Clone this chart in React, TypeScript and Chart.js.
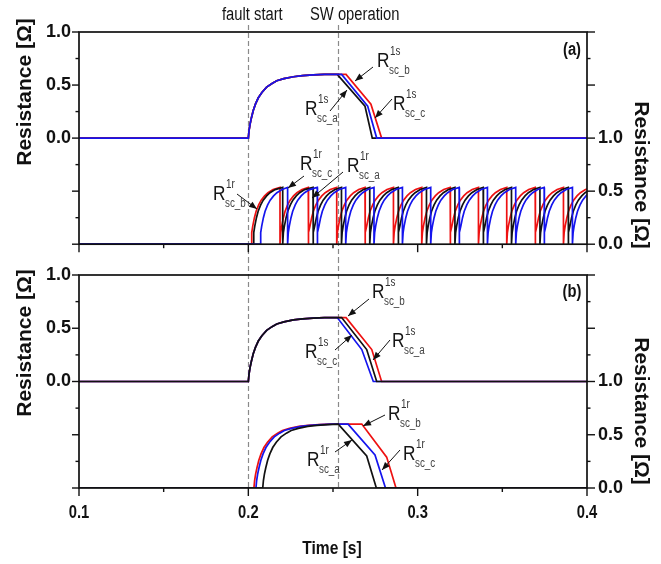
import React, { useEffect, useRef } from "react";
import { Chart, registerables } from "chart.js";
Chart.register(...registerables);

const W = 661;
const TOP_H = 258;
const BOT_H = 306;

const SANS = "'Liberation Sans', Arial, sans-serif";
const NARROW_SCALE = 0.82;

// ---------- axis values ----------
const T_MIN = 0.1;
const T_MAX = 0.4;
const T_STEP = 0.05;
const X_TICK_LABELS = [0.1, 0.2, 0.3, 0.4];
const Y_TICK_LABELS = [0.0, 0.5, 1.0];
const EVENT_TIMES = [0.2, 0.2531];
const EVENT_LABELS = ["fault start", "SW operation"];

// ---------- shared rise shape after the fault (offset from onset [s], resistance [Ω]) ----------
const RISE_DT = [0, 0.0004, 0.001, 0.0018, 0.0029, 0.0042, 0.0059, 0.008, 0.0108, 0.014, 0.0168, 0.021, 0.0266, 0.032, 0.0384, 0.045];
const RISE_V = [0, 0.07, 0.13, 0.19, 0.26, 0.32, 0.38, 0.43, 0.48, 0.515, 0.54, 0.56, 0.578, 0.588, 0.595, 0.6];

// ---------- panel (a), upper: R1s ----------
const A_UP_ONSET = 0.2;
const A_UP_FALL_BLACK = [[0.2525, 0.6], [0.2689, 0.3], [0.2732, 0]];
const A_UP_FALL_BLUE = [[0.2551, 0.6], [0.2705, 0.3], [0.2758, 0]];
const A_UP_FALL_RED = [[0.2577, 0.6], [0.2724, 0.32], [0.2787, 0]];

// ---------- panel (a), lower: R1r repeated recovery ----------
const RIPPLE_DT = [0, 0.0004, 0.001, 0.002, 0.003, 0.0045, 0.006, 0.008, 0.01, 0.013];
const RIPPLE_V = [0, 0.11, 0.17, 0.25, 0.31, 0.37, 0.415, 0.455, 0.485, 0.515];
const RIPPLE_PEAK = 0.535;
const RIPPLE_RED_ONSET = 0.2016;
const RIPPLE_RED_DROPS = [0.2187, 0.2354, 0.2522, 0.2689, 0.2857, 0.3024, 0.3192, 0.3359, 0.3526, 0.3694, 0.3861, 0.4029];
const RIPPLE_BLACK_ONSET = 0.2028;
const RIPPLE_BLACK_DROPS = [0.2203, 0.2382, 0.255, 0.2717, 0.2885, 0.3052, 0.322, 0.3387, 0.3554, 0.3722, 0.3889, 0.4057];
const RIPPLE_BLUE_ONSET = 0.2069;
const RIPPLE_BLUE_DROPS = [0.2232, 0.2407, 0.2575, 0.2742, 0.291, 0.3077, 0.3245, 0.3412, 0.3579, 0.3747, 0.3914, 0.4082];

// ---------- panel (b), upper: R1s ----------
const B_UP_ONSET = 0.2;
const B_UP_FALL_BLUE = [[0.2525, 0.6], [0.267, 0.3], [0.2738, 0]];
const B_UP_FALL_BLACK = [[0.2551, 0.6], [0.2699, 0.3], [0.2758, 0]];
const B_UP_FALL_RED = [[0.2577, 0.6], [0.2729, 0.3], [0.2787, 0]];

// ---------- panel (b), lower: R1r ----------
const B_LOW_ONSET_RED = 0.2033;
const B_LOW_ONSET_BLUE = 0.2045;
const B_LOW_ONSET_BLACK = 0.2085;
const B_LOW_FALL_BLACK = [[0.2531, 0.6], [0.2699, 0.3], [0.2756, 0]];
const B_LOW_FALL_BLUE = [[0.2589, 0.6], [0.2748, 0.31], [0.281, 0]];
const B_LOW_FALL_RED = [[0.267, 0.6], [0.2817, 0.29], [0.2872, 0]];

const RED = "#ee1111";
const BLUE = "#1414ee";
const BLACK = "#111111";

type Pt = { x: number; y: number };

function faultCurve(onset: number, fall: number[][]): Pt[] {
  const pts: Pt[] = [{ x: T_MIN, y: 0 }];
  for (let k = 0; k < RISE_DT.length; k++) {
    const t = onset + RISE_DT[k];
    if (t < fall[0][0]) pts.push({ x: t, y: RISE_V[k] });
  }
  fall.forEach(([t, v]) => pts.push({ x: t, y: v }));
  pts.push({ x: T_MAX, y: 0 });
  return pts;
}

function rippleCurve(onset: number, drops: number[]): Pt[] {
  const pts: Pt[] = [{ x: T_MIN, y: 0 }];
  let start = onset;
  drops.forEach((d) => {
    for (let k = 0; k < RIPPLE_DT.length; k++) {
      const t = start + RIPPLE_DT[k];
      if (t < d - 0.0002) pts.push({ x: t, y: RIPPLE_V[k] });
    }
    pts.push({ x: d, y: RIPPLE_PEAK });
    pts.push({ x: d, y: 0 });
    start = d;
  });
  return pts;
}

type Ann = { sup: string; sub: string; x: number; y: number; from: number[]; to: number[] };

const A_ANN: Ann[] = [
  { sup: "1s", sub: "sc_b", x: 377, y: 67, from: [373, 67], to: [355, 81] },
  { sup: "1s", sub: "sc_a", x: 305, y: 115, from: [330, 111], to: [347, 90] },
  { sup: "1s", sub: "sc_c", x: 393, y: 110, from: [392, 99], to: [375, 118] },
  { sup: "1r", sub: "sc_b", x: 213, y: 200, from: [237, 194], to: [257, 209] },
  { sup: "1r", sub: "sc_c", x: 300, y: 170, from: [304, 176], to: [288, 188] },
  { sup: "1r", sub: "sc_a", x: 347, y: 172, from: [343, 172], to: [312, 198] },
];
const B_ANN: Ann[] = [
  { sup: "1s", sub: "sc_b", x: 372, y: 298, from: [369, 299], to: [348, 316] },
  { sup: "1s", sub: "sc_a", x: 392, y: 347, from: [390, 340], to: [373, 360] },
  { sup: "1s", sub: "sc_c", x: 305, y: 358, from: [335, 350], to: [352, 335] },
  { sup: "1r", sub: "sc_b", x: 388, y: 420, from: [385, 415], to: [363, 426] },
  { sup: "1r", sub: "sc_c", x: 403, y: 460, from: [400, 450], to: [382, 470] },
  { sup: "1r", sub: "sc_a", x: 307, y: 466, from: [335, 452], to: [352, 440] },
];

const isMult = (v: number, s: number) => Math.abs(v / s - Math.round(v / s)) < 1e-6;

function narrowText(ctx: any, text: string, x: number, y: number, font: string, align: string, baseline: string, color: string) {
  ctx.save();
  ctx.translate(x, y);
  ctx.scale(NARROW_SCALE, 1);
  ctx.font = font;
  ctx.textAlign = align;
  ctx.textBaseline = baseline;
  ctx.fillStyle = color;
  ctx.fillText(text, 0, 0);
  ctx.restore();
}

type Spec = {
  offsetY: number;
  panel: string;
  panelY: number;
  anns: Ann[];
  leftTitleY: number;
  rightTitleY: number;
  dashTop: number;
  dashBottom: number | null;
  showEventLabels: boolean;
  showXAxis: boolean;
};

function makePlugin(spec: Spec) {
  return {
    id: "decor" + spec.panel,
    beforeDatasetsDraw(chart: any) {
      const ctx = chart.ctx;
      const xs = chart.scales.x;
      const bottom = spec.dashBottom == null ? chart.chartArea.bottom : spec.dashBottom;
      ctx.save();
      ctx.strokeStyle = "#8a8a8a";
      ctx.lineWidth = 1.2;
      ctx.setLineDash([5, 3]);
      EVENT_TIMES.forEach((t) => {
        const p = Math.round(xs.getPixelForValue(t)) + 0.5;
        ctx.beginPath();
        ctx.moveTo(p, spec.dashTop);
        ctx.lineTo(p, bottom);
        ctx.stroke();
      });
      ctx.restore();
    },
    afterDraw(chart: any) {
      const ctx = chart.ctx;
      const { left, right, top, bottom } = chart.chartArea;
      const xs = chart.scales.x;
      const yl = chart.scales.yL;
      const yr = chart.scales.yR;
      const oy = spec.offsetY;
      ctx.save();
      // frame
      ctx.strokeStyle = BLACK;
      ctx.lineWidth = 1.7;
      ctx.strokeRect(left, top, right - left, bottom - top);
      // ticks
      ctx.lineWidth = 1.4;
      const seg = (x1: number, y1: number, x2: number, y2: number) => {
        ctx.beginPath();
        ctx.moveTo(x1, y1);
        ctx.lineTo(x2, y2);
        ctx.stroke();
      };
      xs.ticks.forEach((t: any) => {
        const p = xs.getPixelForValue(t.value);
        seg(p, bottom, p, bottom + (isMult(t.value, 0.1) ? 8 : 4));
      });
      yl.ticks.forEach((t: any) => {
        const p = yl.getPixelForValue(t.value);
        seg(left - (isMult(t.value, 0.5) ? 7 : 3.5), p, left, p);
      });
      yr.ticks.forEach((t: any) => {
        const p = yr.getPixelForValue(t.value);
        seg(right, p, right + (isMult(t.value, 0.5) ? 8 : 3.5), p);
      });
      // x tick labels (narrow bold), placed by the x scale
      if (spec.showXAxis) {
        xs.ticks.forEach((t: any) => {
          if (!t.label) return;
          const p = xs.getPixelForValue(t.value);
          narrowText(ctx, t.label, p, 513 - oy, `bold 18px ${SANS}`, "center", "middle", BLACK);
        });
        narrowText(ctx, "Time [s]", 332, 549 - oy, `bold 19px ${SANS}`, "center", "middle", BLACK);
      }
      // annotations
      spec.anns.forEach((a) => {
        narrowText(ctx, "R", a.x, a.y - oy, `21px ${SANS}`, "left", "alphabetic", "#151515");
        narrowText(ctx, a.sup, a.x + 13, a.y - oy - 12, `12px ${SANS}`, "left", "alphabetic", "#333");
        narrowText(ctx, a.sub, a.x + 12, a.y - oy + 7, `12px ${SANS}`, "left", "alphabetic", "#444");
        const [x1, y1] = a.from;
        const [x2, y2] = a.to;
        const Y1 = y1 - oy;
        const Y2 = y2 - oy;
        ctx.strokeStyle = BLACK;
        ctx.lineWidth = 1;
        seg(x1, Y1, x2, Y2);
        const ang = Math.atan2(Y2 - Y1, x2 - x1);
        const hl = 8;
        const hw = 3.2;
        ctx.fillStyle = BLACK;
        ctx.beginPath();
        ctx.moveTo(x2, Y2);
        ctx.lineTo(x2 - hl * Math.cos(ang) + hw * Math.sin(ang), Y2 - hl * Math.sin(ang) - hw * Math.cos(ang));
        ctx.lineTo(x2 - hl * Math.cos(ang) - hw * Math.sin(ang), Y2 - hl * Math.sin(ang) + hw * Math.cos(ang));
        ctx.closePath();
        ctx.fill();
      });
      // panel label
      narrowText(ctx, spec.panel, 572, spec.panelY - oy, `bold 18px ${SANS}`, "center", "middle", BLACK);
      // axis titles
      ctx.fillStyle = BLACK;
      ctx.font = `bold 21px ${SANS}`;
      ctx.textAlign = "center";
      ctx.textBaseline = "middle";
      ctx.save();
      ctx.translate(25, spec.leftTitleY - oy);
      ctx.rotate(-Math.PI / 2);
      ctx.fillText("Resistance [Ω]", 0, 0);
      ctx.restore();
      ctx.save();
      ctx.translate(641, spec.rightTitleY - oy);
      ctx.rotate(Math.PI / 2);
      ctx.fillText("Resistance [Ω]", 0, 0);
      ctx.restore();
      if (spec.showEventLabels) {
        narrowText(ctx, EVENT_LABELS[0], 222, 15, `18px ${SANS}`, "left", "middle", "#151515");
        narrowText(ctx, EVENT_LABELS[1], 310, 15, `18px ${SANS}`, "left", "middle", "#151515");
      }
      ctx.restore();
    },
  };
}

function ds(data: Pt[], axis: string, color: string, order: number) {
  return {
    data,
    yAxisID: axis,
    xAxisID: "x",
    borderColor: color,
    backgroundColor: color,
    borderWidth: 1.7,
    pointRadius: 0,
    pointHoverRadius: 0,
    fill: false,
    tension: 0,
    order,
  };
}

function makeOptions(opts: { top: number; xHeight: number; xLabels: boolean }) {
  const yTick = (v: any) => {
    const n = Number(v);
    return Y_TICK_LABELS.some((l) => Math.abs(l - n) < 1e-6) ? n.toFixed(1) : "";
  };
  return {
    responsive: false,
    animation: false as const,
    devicePixelRatio: 1,
    layout: { padding: { top: opts.top, left: 0, right: 0, bottom: 0 }, autoPadding: false },
    plugins: { legend: { display: false }, tooltip: { enabled: false } },
    events: [],
    scales: {
      x: {
        type: "linear" as const,
        position: "bottom" as const,
        min: T_MIN,
        max: T_MAX,
        ticks: {
          stepSize: T_STEP,
          autoSkip: false,
          maxRotation: 0,
          padding: 7,
          color: "rgba(0,0,0,0)",
          font: { family: SANS, size: 18, weight: "bold" as const },
          callback: (v: any) => {
            if (!opts.xLabels) return "";
            const n = Number(v);
            return X_TICK_LABELS.some((l) => Math.abs(l - n) < 1e-6) ? n.toFixed(1) : "";
          },
        },
        grid: { drawOnChartArea: false, drawTicks: true, tickLength: 8, tickColor: "rgba(0,0,0,0)" },
        border: { display: false },
        afterFit: (s: any) => {
          s.height = opts.xHeight;
        },
      },
      yL: {
        type: "linear" as const,
        position: "left" as const,
        min: -1,
        max: 1,
        ticks: {
          stepSize: 0.25,
          autoSkip: false,
          padding: 1,
          color: BLACK,
          font: { family: SANS, size: 18, weight: "bold" as const },
          callback: yTick,
        },
        grid: { drawOnChartArea: false, drawTicks: true, tickLength: 7, tickColor: "rgba(0,0,0,0)" },
        border: { display: false },
        afterFit: (s: any) => {
          s.width = 79;
        },
      },
      yR: {
        type: "linear" as const,
        position: "right" as const,
        min: 0,
        max: 2,
        ticks: {
          stepSize: 0.25,
          autoSkip: false,
          padding: 3,
          color: BLACK,
          font: { family: SANS, size: 18, weight: "bold" as const },
          callback: yTick,
        },
        grid: { drawOnChartArea: false, drawTicks: true, tickLength: 8, tickColor: "rgba(0,0,0,0)" },
        border: { display: false },
        afterFit: (s: any) => {
          s.width = W - 587;
        },
      },
    },
  };
}

export default function App() {
  const refA = useRef<HTMLCanvasElement>(null);
  const refB = useRef<HTMLCanvasElement>(null);

  useEffect(() => {
    const chartA = new Chart(refA.current as HTMLCanvasElement, {
      type: "line",
      data: {
        datasets: [
          ds(faultCurve(A_UP_ONSET, A_UP_FALL_BLUE), "yL", BLUE, 0),
          ds(faultCurve(A_UP_ONSET, A_UP_FALL_RED), "yL", RED, 1),
          ds(faultCurve(A_UP_ONSET, A_UP_FALL_BLACK), "yL", BLACK, 2),
          ds(rippleCurve(RIPPLE_BLUE_ONSET, RIPPLE_BLUE_DROPS), "yR", BLUE, 3),
          ds(rippleCurve(RIPPLE_BLACK_ONSET, RIPPLE_BLACK_DROPS), "yR", BLACK, 4),
          ds(rippleCurve(RIPPLE_RED_ONSET, RIPPLE_RED_DROPS), "yR", RED, 5),
        ],
      },
      options: makeOptions({ top: 32, xHeight: TOP_H - 244.5, xLabels: false }) as any,
      plugins: [
        makePlugin({
          offsetY: 0,
          panel: "(a)",
          panelY: 50,
          anns: A_ANN,
          leftTitleY: 92,
          rightTitleY: 175,
          dashTop: 25,
          dashBottom: TOP_H,
          showEventLabels: true,
          showXAxis: false,
        }),
      ],
    });
    const chartB = new Chart(refB.current as HTMLCanvasElement, {
      type: "line",
      data: {
        datasets: [
          ds(faultCurve(B_UP_ONSET, B_UP_FALL_BLACK), "yL", BLACK, 0),
          ds(faultCurve(B_UP_ONSET, B_UP_FALL_BLUE), "yL", BLUE, 1),
          ds(faultCurve(B_UP_ONSET, B_UP_FALL_RED), "yL", RED, 2),
          ds(faultCurve(B_LOW_ONSET_BLACK, B_LOW_FALL_BLACK), "yR", BLACK, 3),
          ds(faultCurve(B_LOW_ONSET_BLUE, B_LOW_FALL_BLUE), "yR", BLUE, 4),
          ds(faultCurve(B_LOW_ONSET_RED, B_LOW_FALL_RED), "yR", RED, 5),
        ],
      },
      options: makeOptions({ top: 275 - TOP_H, xHeight: TOP_H + BOT_H - 488, xLabels: true }) as any,
      plugins: [
        makePlugin({
          offsetY: TOP_H,
          panel: "(b)",
          panelY: 292,
          anns: B_ANN,
          leftTitleY: 343,
          rightTitleY: 411,
          dashTop: 0,
          dashBottom: null,
          showEventLabels: false,
          showXAxis: true,
        }),
      ],
    });
    return () => {
      chartA.destroy();
      chartB.destroy();
    };
  }, []);

  return (
    <div style={{ position: "absolute", left: 0, top: 0, width: W, height: TOP_H + BOT_H, background: "#fff" }}>
      <canvas ref={refA} width={W} height={TOP_H} style={{ position: "absolute", left: 0, top: 0, width: W, height: TOP_H }} />
      <canvas ref={refB} width={W} height={BOT_H} style={{ position: "absolute", left: 0, top: TOP_H, width: W, height: BOT_H }} />
    </div>
  );
}
